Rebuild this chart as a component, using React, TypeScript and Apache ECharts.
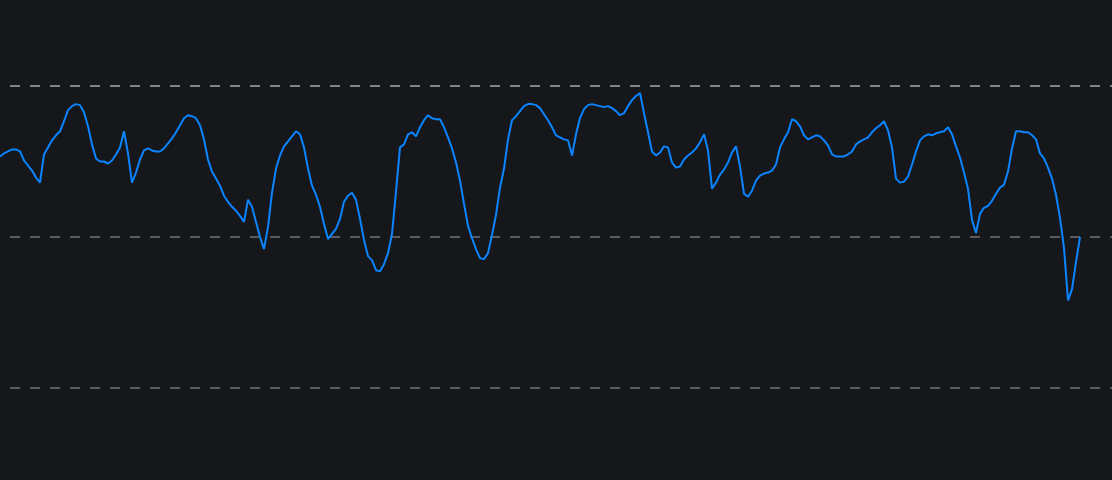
import { useEffect, useRef } from "react";
import * as echarts from "echarts";

// one reading every step along the x axis (index 0..270), axis runs to 278
const values = [
  80, 83, 85, 87, 87, 85, 76, 71, 66, 59,
  54, 82, 89, 96, 101, 105, 115, 126, 130, 132,
  131, 124, 110, 92, 78, 75, 75, 73, 76, 82,
  89, 105, 83, 54, 64, 77, 86, 88, 86, 85,
  85, 88, 93, 98, 104, 111, 118, 121, 120, 118,
  111, 97, 77, 65, 58, 51, 41, 35, 30, 26,
  21, 15, 37, 30, 15, 0, -12, 10, 44, 68,
  81, 90, 95, 100, 105, 102, 89, 68, 51, 42,
  30, 13, -2, 3, 8, 18, 35, 41, 44, 37,
  18, -3, -19, -23, -33, -34, -27, -16, 3, 45,
  89, 92, 102, 104, 100, 109, 116, 121, 118, 117,
  117, 109, 99, 88, 74, 56, 33, 11, -1, -12,
  -21, -22, -16, 2, 22, 49, 68, 97, 116, 120,
  125, 130, 132, 132, 131, 128, 122, 116, 109, 101,
  99, 97, 96, 81, 102, 118, 127, 131, 132, 131,
  130, 129, 130, 128, 125, 121, 123, 130, 136, 140,
  143, 123, 104, 85, 81, 84, 90, 89, 74, 69,
  70, 77, 81, 84, 88, 94, 102, 86, 48, 54,
  62, 67, 74, 84, 90, 70, 43, 40, 46, 56,
  61, 63, 64, 66, 72, 89, 97, 104, 117, 115,
  110, 101, 97, 99, 101, 100, 96, 91, 82, 80,
  80, 80, 82, 85, 92, 95, 97, 99, 104, 108,
  111, 115, 106, 89, 58, 54, 55, 60, 72, 85,
  96, 100, 102, 101, 103, 104, 105, 109, 102, 90,
  79, 64, 48, 17, 4, 23, 29, 31, 36, 43,
  49, 52, 65, 88, 105, 105, 104, 104, 101, 97,
  83, 78, 69, 58, 42, 19, -11, -63, -52, -25,
  0,
];

const X_MAX = 278;
const Y_MIN = -150;
const Y_MAX = 150;
const Y_STEP = 150;

export default function App() {
  const chartRef = useRef<HTMLDivElement>(null);

  useEffect(() => {
    if (!chartRef.current) return;

    const chart = echarts.init(chartRef.current, null, { renderer: "svg" });

    chart.setOption({
      animation: false,
      backgroundColor: "#16171b",
      grid: { left: 0, right: 0, top: 86, bottom: 92 },
      xAxis: {
        type: "value",
        min: 0,
        max: X_MAX,
        show: false,
      },
      yAxis: {
        type: "value",
        min: Y_MIN,
        max: Y_MAX,
        interval: Y_STEP,
        axisLine: { show: false },
        axisTick: { show: false },
        axisLabel: { show: false },
        splitLine: {
          show: true,
          lineStyle: {
            color: ["#575b63", "#575b63", "#80848c"],
            width: 2,
            type: [10, 10],
            dashOffset: 10,
          },
        },
      },
      series: [
        {
          type: "line",
          data: values.map((v, i) => [i, v]),
          symbol: "none",
          lineStyle: { color: "#0a84ff", width: 2 },
        },
      ],
    });

    return () => {
      chart.dispose();
    };
  }, []);

  return (
    <div
      ref={chartRef}
      style={{ width: "1112px", height: "480px", position: "fixed", left: 0, top: 0 }}
    />
  );
}
